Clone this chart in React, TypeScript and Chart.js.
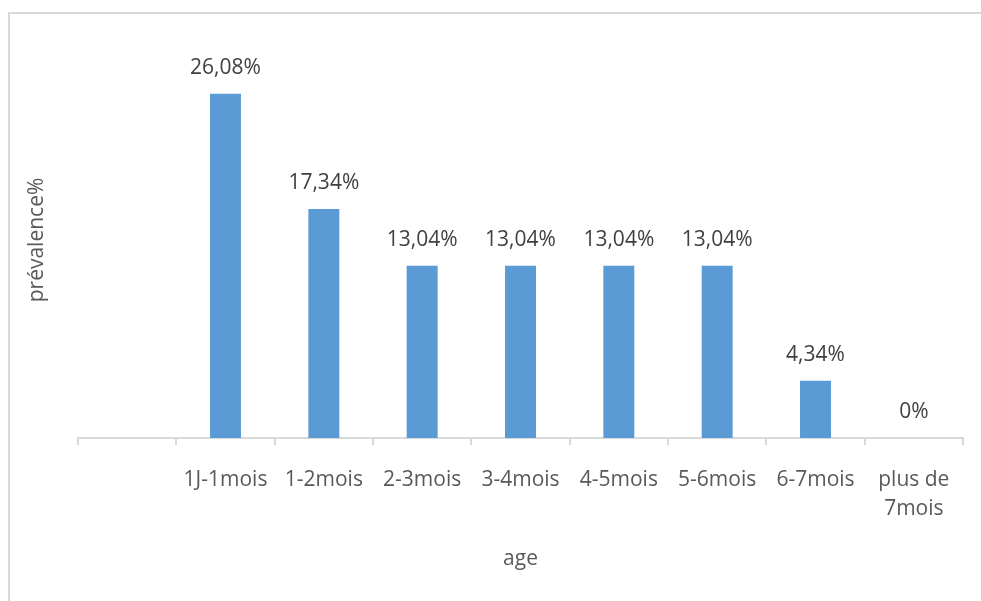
import React, { useEffect, useRef } from "react";
import { Chart, registerables } from "chart.js";

Chart.register(...registerables);

const categories: (string | string[])[] = [
  "",
  "1J-1mois",
  "1-2mois",
  "2-3mois",
  "3-4mois",
  "4-5mois",
  "5-6mois",
  "6-7mois",
  ["plus de", "7mois"],
];
const prevalence: (number | null)[] = [null, 26.08, 17.34, 13.04, 13.04, 13.04, 13.04, 4.34, 0];
const yMin = 0;
const yMax = 30;
const xTitle = "age";
const yTitle = "prévalence%";

const FONT = "'Open Sans', 'DejaVu Sans', sans-serif";

function fmt(v: number): string {
  if (v === 0) return "0%";
  return v.toFixed(2).replace(".", ",") + "%";
}

const framePlugin = {
  id: "frame",
  beforeDraw(chart: any) {
    const ctx = chart.ctx;
    ctx.save();
    ctx.fillStyle = "#ffffff";
    ctx.fillRect(0, 0, chart.width, chart.height);
    ctx.strokeStyle = "#d9d9d9";
    ctx.lineWidth = 2;
    ctx.strokeRect(9, 13, 2000, 2000);
    ctx.restore();
  },
};

const dataLabelPlugin = {
  id: "dataLabels",
  afterDatasetsDraw(chart: any) {
    const ctx = chart.ctx;
    const meta = chart.getDatasetMeta(0);
    const data = chart.data.datasets[0].data;
    ctx.save();
    ctx.font = `21px ${FONT}`;
    ctx.fillStyle = "#404040";
    ctx.textAlign = "center";
    ctx.textBaseline = "middle";
    meta.data.forEach((el: any, i: number) => {
      const v = data[i];
      if (v === null || v === undefined) return;
      ctx.fillText(fmt(v), el.x, el.y - 26);
    });
    ctx.restore();
  },
};

export default function App() {
  const ref = useRef<HTMLCanvasElement>(null);
  useEffect(() => {
    if (!ref.current) return;
    const chart = new Chart(ref.current, {
      type: "bar",
      data: {
        labels: categories,
        datasets: [
          {
            data: prevalence,
            backgroundColor: "#5B9BD5",
            borderWidth: 0,
            barPercentage: 0.315,
            categoryPercentage: 1,
          },
        ],
      },
      options: {
        responsive: false,
        animation: false,
        layout: { padding: { top: 42, right: 18, bottom: 0, left: 0 } },
        plugins: {
          legend: { display: false },
          tooltip: { enabled: false },
        },
        scales: {
          x: {
            offset: true,
            grid: {
              offset: true,
              drawOnChartArea: false,
              drawTicks: true,
              tickLength: 7,
              color: "#d9d9d9",
              lineWidth: 2,
            },
            border: { display: true, color: "#d9d9d9", width: 2 },
            ticks: {
              color: "#595959",
              font: { family: FONT, size: 21, lineHeight: 1.38 },
              padding: 21,
              maxRotation: 0,
              minRotation: 0,
              autoSkip: false,
            },
            title: {
              display: true,
              text: xTitle,
              color: "#595959",
              font: { family: FONT, size: 21 },
              padding: { top: 0, bottom: 29 },
            },
            afterFit(scale: any) {
              scale.height = 601 - 438;
            },
          },
          y: {
            min: yMin,
            max: yMax,
            grid: { display: false },
            border: { display: false },
            ticks: { display: false },
            title: {
              display: true,
              text: yTitle,
              color: "#595959",
              font: { family: FONT, size: 21 },
              padding: { top: 24, bottom: 0 },
            },
            afterFit(scale: any) {
              scale.width = 78;
            },
          },
        },
      },
      plugins: [framePlugin, dataLabelPlugin],
    } as any);
    return () => chart.destroy();
  }, []);
  return (
    <div style={{ position: "fixed", left: 0, top: 0, width: 981, height: 601, background: "#fff" }}>
      <canvas ref={ref} width={981} height={601} style={{ display: "block" }} />
    </div>
  );
}
